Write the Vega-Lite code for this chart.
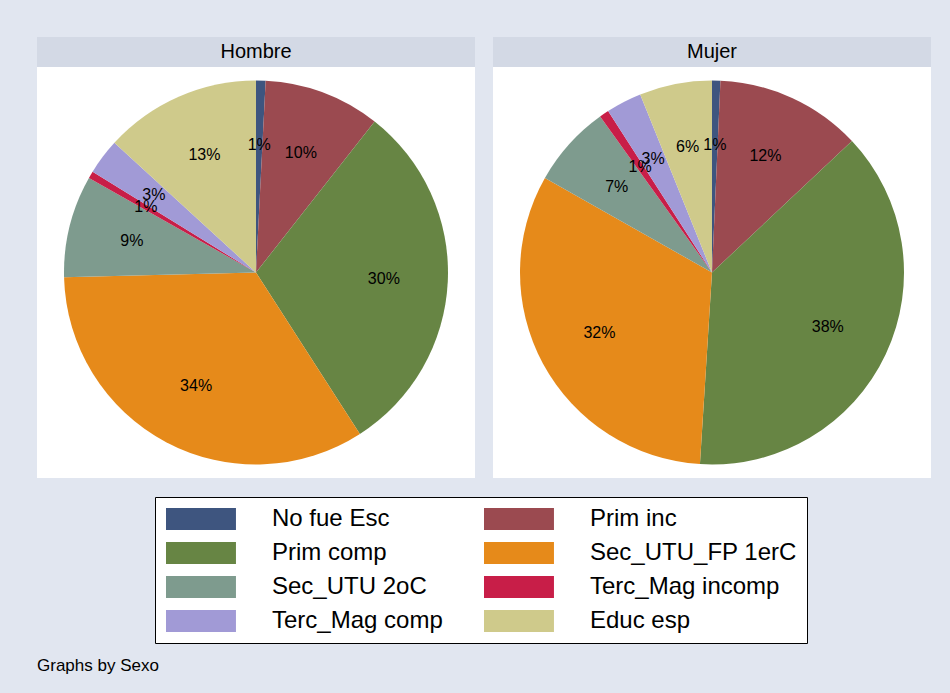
{
  "$schema": "https://vega.github.io/schema/vega-lite/v6.json",
  "background": "#E1E6F0",
  "padding": {"left": 37, "top": 37, "right": 19, "bottom": 19},
  "autosize": {"type": "pad"},
  "datasets": {
    "d": [
      {"sexo": "Hombre", "nivel": "No fue Esc", "ord": 1, "share": 0.008},
      {"sexo": "Hombre", "nivel": "Prim inc", "ord": 2, "share": 0.098},
      {"sexo": "Hombre", "nivel": "Prim comp", "ord": 3, "share": 0.303},
      {"sexo": "Hombre", "nivel": "Sec_UTU_FP 1erC", "ord": 4, "share": 0.337},
      {"sexo": "Hombre", "nivel": "Sec_UTU 2oC", "ord": 5, "share": 0.086},
      {"sexo": "Hombre", "nivel": "Terc_Mag incomp", "ord": 6, "share": 0.006},
      {"sexo": "Hombre", "nivel": "Terc_Mag comp", "ord": 7, "share": 0.030},
      {"sexo": "Hombre", "nivel": "Educ esp", "ord": 8, "share": 0.132},
      {"sexo": "Mujer", "nivel": "No fue Esc", "ord": 1, "share": 0.007},
      {"sexo": "Mujer", "nivel": "Prim inc", "ord": 2, "share": 0.123},
      {"sexo": "Mujer", "nivel": "Prim comp", "ord": 3, "share": 0.380},
      {"sexo": "Mujer", "nivel": "Sec_UTU_FP 1erC", "ord": 4, "share": 0.322},
      {"sexo": "Mujer", "nivel": "Sec_UTU 2oC", "ord": 5, "share": 0.069},
      {"sexo": "Mujer", "nivel": "Terc_Mag incomp", "ord": 6, "share": 0.008},
      {"sexo": "Mujer", "nivel": "Terc_Mag comp", "ord": 7, "share": 0.030},
      {"sexo": "Mujer", "nivel": "Educ esp", "ord": 8, "share": 0.061}
    ]
  },
  "data": {"name": "d"},
  "title": {
    "text": "Graphs by Sexo",
    "orient": "bottom",
    "anchor": "start",
    "frame": "bounds",
    "fontSize": 17,
    "fontWeight": "normal",
    "font": "Liberation Sans",
    "color": "black",
    "offset": 14
  },
  "spacing": 18,
  "hconcat": [
    {
      "spacing": 0,
      "vconcat": [
        {
          "width": 438, "height": 30,
          "view": {"fill": "#D3D9E5", "stroke": null},
          "transform": [{"filter": "datum.sexo === 'Hombre'"}, {"aggregate": [{"op": "count", "as": "n"}], "groupby": ["sexo"]}],
          "mark": {"type": "text", "fontSize": 20, "font": "Liberation Sans", "color": "black"},
          "encoding": {"text": {"field": "sexo", "type": "nominal"}}
        },
        {
          "width": 438, "height": 411,
          "view": {"fill": "white", "stroke": null},
          "transform": [{"filter": "datum.sexo === 'Hombre'"}],
          "layer": [
            {
              "mark": {"type": "arc", "outerRadius": 192},
              "encoding": {
                "theta": {"field": "share", "type": "quantitative", "stack": true},
                "order": {"field": "ord", "type": "quantitative"},
                "color": {"field": "nivel", "type": "nominal", "title": null,
                  "scale": {"domain": ["No fue Esc", "Prim inc", "Prim comp", "Sec_UTU_FP 1erC", "Sec_UTU 2oC", "Terc_Mag incomp", "Terc_Mag comp", "Educ esp"],
                            "range": ["#3E557F", "#9B4A50", "#678544", "#E68A1A", "#7E9B8E", "#C81E48", "#A19AD6", "#CFCA8B"]},
                  "legend": {
                    "orient": "none", "legendX": 118, "legendY": 460,
                    "columns": 2, "direction": "horizontal",
                    "symbolType": "M-1,-1H5.36V1H-1Z", "symbolSize": 484,
                    "symbolStrokeWidth": 0, "symbolOpacity": 1,
                    "labelFontSize": 24, "labelFont": "Liberation Sans", "labelColor": "black",
                    "labelOffset": 83, "labelLimit": 400,
                    "padding": 10, "rowPadding": 10, "columnPadding": 40,
                    "fillColor": "white", "strokeColor": "black"
                  }
                }
              }
            },
            {
              "mark": {"type": "text", "radius": 128, "fontSize": 16, "font": "Liberation Sans", "color": "black"},
              "encoding": {
                "theta": {"field": "share", "type": "quantitative", "stack": true},
                "order": {"field": "ord", "type": "quantitative"},
                "text": {"field": "share", "type": "quantitative", "format": ".0%"}
              }
            }
          ]
        }
      ]
    },
    {
      "spacing": 0,
      "vconcat": [
        {
          "width": 438, "height": 30,
          "view": {"fill": "#D3D9E5", "stroke": null},
          "transform": [{"filter": "datum.sexo === 'Mujer'"}, {"aggregate": [{"op": "count", "as": "n"}], "groupby": ["sexo"]}],
          "mark": {"type": "text", "fontSize": 20, "font": "Liberation Sans", "color": "black"},
          "encoding": {"text": {"field": "sexo", "type": "nominal"}}
        },
        {
          "width": 438, "height": 411,
          "view": {"fill": "white", "stroke": null},
          "transform": [{"filter": "datum.sexo === 'Mujer'"}],
          "layer": [
            {
              "mark": {"type": "arc", "outerRadius": 192},
              "encoding": {
                "theta": {"field": "share", "type": "quantitative", "stack": true},
                "order": {"field": "ord", "type": "quantitative"},
                "color": {"field": "nivel", "type": "nominal", "title": null,
                  "scale": {"domain": ["No fue Esc", "Prim inc", "Prim comp", "Sec_UTU_FP 1erC", "Sec_UTU 2oC", "Terc_Mag incomp", "Terc_Mag comp", "Educ esp"],
                            "range": ["#3E557F", "#9B4A50", "#678544", "#E68A1A", "#7E9B8E", "#C81E48", "#A19AD6", "#CFCA8B"]}}
              }
            },
            {
              "mark": {"type": "text", "radius": 128, "fontSize": 16, "font": "Liberation Sans", "color": "black"},
              "encoding": {
                "theta": {"field": "share", "type": "quantitative", "stack": true},
                "order": {"field": "ord", "type": "quantitative"},
                "text": {"field": "share", "type": "quantitative", "format": ".0%"}
              }
            }
          ]
        }
      ]
    }
  ],
  "resolve": {"scale": {"color": "shared"}, "legend": {"color": "shared"}},
  "config": {"font": "Liberation Sans", "view": {"stroke": null}}
}
